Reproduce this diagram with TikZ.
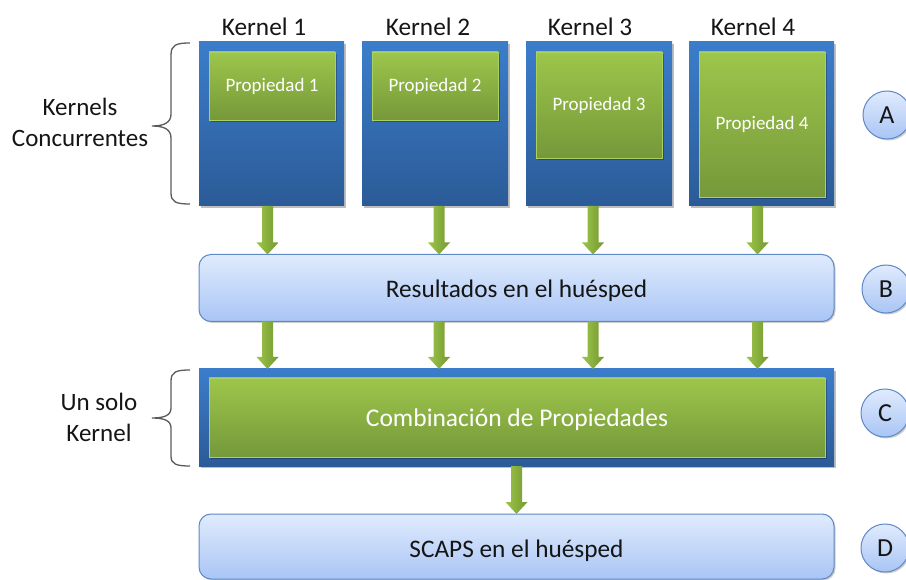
\documentclass[tikz,border=0pt]{standalone}
\usepackage{fontspec}
\setmainfont{Carlito}
\usetikzlibrary{shadows,calc}

\definecolor{kblueT}{HTML}{3B7DCB}
\definecolor{kblueB}{HTML}{2B5B97}
\definecolor{greenT}{HTML}{9DC64B}
\definecolor{greenB}{HTML}{76983A}
\definecolor{greenEdge}{HTML}{ABD160}
\definecolor{lbT}{HTML}{E0EBFD}
\definecolor{lbB}{HTML}{A9C5F5}
\definecolor{lbEdge}{HTML}{5F89C6}
\definecolor{arrL}{HTML}{9CC54C}
\definecolor{arrR}{HTML}{74982F}
\definecolor{braceC}{HTML}{5A5A5A}
\definecolor{txt}{HTML}{151515}

\tikzset{
  kernelbox/.style={inner sep=0pt, outer sep=0pt, top color=kblueT, bottom color=kblueB,
    drop shadow={shadow xshift=2pt, shadow yshift=-2pt, opacity=0.25, fill=black}},
  propbox/.style={inner sep=0pt, outer sep=0pt, top color=greenT, bottom color=greenB,
    draw=greenEdge, line width=0.8pt, text=white, font=\fontsize{19}{22}\selectfont,
    drop shadow={shadow xshift=2pt, shadow yshift=-2pt, opacity=0.25, fill=black}},
  hostbox/.style={inner sep=0pt, outer sep=0pt, rounded corners=12pt, top color=lbT, bottom color=lbB,
    draw=lbEdge, line width=1pt, text=txt, font=\fontsize{25.3}{28}\selectfont,
    drop shadow={shadow xshift=1.5pt, shadow yshift=-1.5pt, opacity=0.2, fill=black}},
  stagecircle/.style={circle, minimum size=48pt, inner sep=0pt, top color=lbT, bottom color=lbB,
    draw=lbEdge, line width=1pt, text=txt, font=\fontsize{26}{30}\selectfont,
    drop shadow={shadow xshift=1.5pt, shadow yshift=-1.5pt, opacity=0.2, fill=black}},
  toplabel/.style={text=txt, font=\fontsize{25.3}{28}\selectfont},
  sidelabel/.style={text=txt, align=center, font=\fontsize{25}{31}\selectfont},
  bracestyle/.style={draw=braceC, line width=1.3pt},
}

% downward green block arrow between two points
\newcommand\greenarrow[2]{%
  \path[left color=arrL, right color=arrR]
    let \p1=#1, \p2=#2 in
    (\x1-5.5pt,\y1) -- (\x1+5.5pt,\y1) -- (\x1+5.5pt,\y2+12pt) -- (\x1+11pt,\y2+12pt)
    -- (\x1,\y2) -- (\x1-11pt,\y2+12pt) -- (\x1-5.5pt,\y2+12pt) -- cycle;}

\begin{document}
\begin{tikzpicture}[x=1pt,y=-1pt]
\useasboundingbox (0,0) rectangle (906,580);

% concurrent kernels
\node[kernelbox, minimum width=145pt, minimum height=164pt] (k1) at (271.5,124) {};
\node[kernelbox, minimum width=146pt, minimum height=164pt] (k2) at (435,124) {};
\node[kernelbox, minimum width=146pt, minimum height=164pt] (k3) at (599,124) {};
\node[kernelbox, minimum width=145pt, minimum height=164pt] (k4) at (761.5,124) {};

\node[propbox, minimum width=126pt, minimum height=68pt]  (p1) at (272,86)    {Propiedad 1};
\node[propbox, minimum width=126pt, minimum height=68pt]  (p2) at (435,86)    {Propiedad 2};
\node[propbox, minimum width=126pt, minimum height=106pt] (p3) at (599,105)   {Propiedad 3};
\node[propbox, minimum width=126pt, minimum height=145pt] (p4) at (762,124.5) {Propiedad 4};

\node[toplabel] (t1) at (264,27) {Kernel 1};
\node[toplabel] (t2) at (428,27) {Kernel 2};
\node[toplabel] (t3) at (590,27) {Kernel 3};
\node[toplabel] (t4) at (753,27) {Kernel 4};

% host results
\node[hostbox, minimum width=635pt, minimum height=67pt, text height=19.4pt, text depth=0pt]
  (res) at (516.5,288) {Resultados en el huésped};

% single combining kernel
\node[kernelbox, minimum width=635pt, minimum height=97pt] (ck) at (516.5,417.5) {};
\node[propbox, minimum width=616pt, minimum height=79pt, font=\fontsize{25.5}{29}\selectfont,
  text height=18.4pt, text depth=0pt]
  (comb) at (517,417.5) {Combinación de Propiedades};

% final host results
\node[hostbox, minimum width=635pt, minimum height=65pt, text height=21pt, text depth=0pt]
  (scaps) at (516.5,546.5) {SCAPS en el huésped};

% arrows: kernels -> host -> combining kernel
\foreach \k/\dx in {k1/-4,k2/4,k3/-6,k4/-4}{
  \greenarrow{($(\k.south)+(\dx,0)$)}{($(\k.south |- res.north)+(\dx,0)$)}
  \greenarrow{($(\k.south |- res.south)+(\dx,0)$)}{($(\k.south |- ck.north)+(\dx,0)$)}
}
% arrow: combining kernel -> host
\greenarrow{(ck.south)}{(scaps.north)}

% stage markers
\node[stagecircle] (sa) at (887,115) {A};
\node[stagecircle] (sb) at (886,289) {B};
\node[stagecircle] (sc) at (885,413) {C};
\node[stagecircle] (sd) at (885,548) {D};

% braces and side labels
\draw[bracestyle] (190,43) .. controls (176,43) and (171,45) .. (171,55) -- (171,114)
  .. controls (171,122) and (165,126) .. (152,126)
  .. controls (165,126) and (171,130) .. (171,138) -- (171,193)
  .. controls (171,202) and (176,204) .. (190,204);
\node[sidelabel] (lk) at (80,122) {Kernels\\Concurrentes};

\draw[bracestyle] (190,370) .. controls (176,370) and (171,372) .. (171,381) -- (171,408)
  .. controls (171,415) and (165,418) .. (152,418)
  .. controls (165,418) and (171,421) .. (171,428) -- (171,456)
  .. controls (171,464) and (176,466) .. (190,466);
\node[sidelabel] (ls) at (99,417) {Un solo\\Kernel};
\end{tikzpicture}
\end{document}
